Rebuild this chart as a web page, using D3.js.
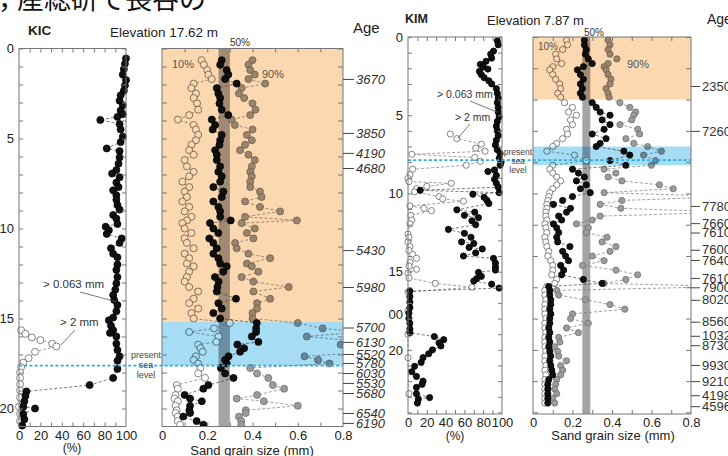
<!DOCTYPE html>
<html><head><meta charset="utf-8">
<script src="https://cdn.jsdelivr.net/npm/d3@7"></script>
<style>
html,body{margin:0;padding:0;background:#fff;}
svg{display:block;font-family:"Liberation Sans",Arial,sans-serif;}
</style></head><body>
<svg id="c" width="728" height="456"></svg>
<script>
// ---------------- KIC core ----------------
const kicPctDepth = [0.55,0.85,1.15,1.45,1.75,2.05,2.35,2.6,2.9,3.15,3.45,3.65,3.8,3.97,4.2,4.5,4.9,5.2,5.55,5.7,6.05,6.4,6.75,6.95,7.15,7.45,7.7,7.88,8.15,8.4,8.7,8.95,9.25,9.45,9.75,9.9,10.1,10.3,10.55,10.8,11.1,11.4,11.6,12.0,12.3,12.7,13.05,13.4,13.7,13.97,14.25,14.6,14.95,15.1,15.4,15.65,15.8,16.0,16.4,16.75,17.1,17.35,17.8,18.3,18.7,19.05,19.3,19.6,19.9,20.0,20.3,20.6,20.95];
const kicPct063 = [100,99,98,97,100,99,98,95,94,97,95,97,92,76,94,95,97,95,82,94,94,93,91,87,94,91,93,88,91,91,92,94,88,91,92,81,84,82,96,94,86,88,92,92,91,92,91,90,88,89,92,91,88,84,86,88,85,91,91,92,94,92,92,88,66,7,6,5,4,15,4,5,3];
const kicPct2Depth = [15.65,15.85,16.05,16.2,16.4,16.55,16.85,17.2,17.45,17.7,18.0,18.3,18.65,19.0,19.4,19.9,20.3,20.7];
const kicPct2 = [2,6,12,20,31,35,15,9,4,2,1,1,1,1,1,0,1,1];
const kicGrainDepth = [0.65,0.9,1.2,1.45,1.7,1.95,2.2,2.5,2.75,3.05,3.4,3.7,3.95,4.25,4.5,4.8,5.1,5.35,5.65,5.9,6.2,6.55,6.85,7.1,7.4,7.7,7.95,8.25,8.5,8.8,9.05,9.35,9.55,9.7,10.0,10.25,10.55,10.8,11.1,11.4,11.65,11.95,12.1,12.4,12.7,12.95,13.25,13.5,13.9,14.15,14.45,14.7,15.0,15.25,15.55,15.75,16.0,16.3,16.45,16.65,16.85,17.1,17.3,17.5,17.75,18.05,18.3,18.7,18.9,19.25,19.45,19.6,19.85,20.1,20.25,20.45,20.7,20.9];
const kicD10 = [0.175,0.185,0.2,0.205,0.22,0.14,0.13,0.15,0.14,0.155,0.16,0.12,0.07,0.14,0.15,0.16,0.15,0.13,0.12,0.14,0.1,0.11,0.14,0.12,0.09,0.12,0.1,0.11,0.09,0.12,0.1,0.13,0.11,0.09,0.1,0.13,0.1,0.11,0.14,0.1,0.12,0.11,0.14,0.12,0.11,0.1,0.12,0.16,0.14,0.12,0.16,0.13,0.14,0.3,0.23,0.12,0.25,0.24,0.16,0.17,0.18,0.15,0.14,0.16,0.17,0.16,0.19,0.065,0.07,0.06,0.055,0.07,0.06,0.065,0.06,0.07,0.07,0.08];
const kicD50 = [0.264,0.257,0.286,0.293,0.279,0.33,0.242,0.249,0.257,0.254,0.264,0.293,0.22,0.235,0.224,0.264,0.257,0.254,0.235,0.242,0.242,0.257,0.249,0.264,0.257,0.227,0.271,0.264,0.227,0.249,0.257,0.257,0.304,0.212,0.227,0.249,0.209,0.227,0.242,0.227,0.249,0.257,0.286,0.271,0.234,0.25,0.245,0.242,0.327,0.249,0.264,0.227,0.257,0.419,0.416,0.416,0.397,0.426,0.333,0.363,0.345,0.294,0.279,0.286,0.26,0.279,0.316,0.205,0.183,0.1,0.124,0.176,0.124,0.121,0.124,0.094,0.153,0.183];
const kicD90 = [0.4,0.382,0.39,0.41,0.382,0.456,0.352,0.34,0.363,0.4,0.413,0.39,0.308,0.322,0.4,0.375,0.397,0.367,0.345,0.382,0.41,0.397,0.39,0.397,0.39,0.39,0.433,0.44,0.367,0.433,0.522,0.367,0.596,0.352,0.41,0.375,0.404,0.323,0.33,0.382,0.478,0.375,0.397,0.426,0.352,0.404,0.56,0.404,0.478,0.42,0.42,0.4,0.4,0.6,0.71,0.88,0.64,0.9,0.79,0.82,0.95,0.63,0.69,0.74,0.39,0.42,0.47,0.49,0.54,0.42,0.33,0.45,0.6,0.37,0.37,0.34,0.35,0.35];
const kicAgeDepth = [1.69,4.69,5.8,6.64,11.2,13.25,15.5,16.3,16.97,17.47,18.03,18.58,19.14,20.25,20.8];
const kicAgeLabels = ["3670","3850","4190","4680","5430","5980","5700","6130","5520","5780","6030","5530","5680","6540","6190"];
const kicOrange = [0, 15.2];
const kicBlue = [15.2, 17.62];
const kicSeaLevel = 17.62;

// ---------------- KIM core ----------------
const kimPctDepth = [0.25,0.5,0.9,1.1,1.35,1.55,1.75,1.9,2.05,2.2,2.4,2.6,2.8,3.0,3.3,3.6,3.9,4.2,4.5,4.8,5.1,5.4,5.7,6.0,6.3,6.6,6.9,7.2,7.45,7.75,8.0,8.2,8.5,8.6,8.85,9.1,9.35,9.6,9.8,9.95,10.05,10.25,10.45,10.65,11.05,11.2,11.4,11.55,11.75,12.0,12.3,12.55,12.8,13.1,13.2,13.45,13.55,13.8,14.0,14.15,14.45,14.7,14.9,15.05,15.3,15.45,15.6,15.8,16.05,16.25,16.6,16.95,17.3,17.65,18.0,18.3,18.65,18.9,19.15,19.35,19.55,19.75,20.0,20.25,20.5,20.8,21.05,21.4,21.7,22.0,22.2,22.4,22.8,23.05,23.15,23.4];
const kimPct063 = [95,96,91,88,89,83,77,80,85,76,78,81,86,89,94,95,96,95,96,96,97,95,94,95,96,94,93,95,98,97,99,98,92,85,94,92,94,96,13,97,69,81,84,86,52,71,60,75,68,72,43,60,67,57,70,65,79,72,59,91,93,93,93,75,78,73,70,89,97,2,2,2,2,1,1,2,2,2,28,38,33,35,26,22,16,14,7,4,9,16,15,9,9,23,11,10];
const kimPct2Depth = [6.2,6.5,6.85,7.1,7.3,7.5,7.7,7.95,8.2,8.45,8.8,9.05,9.25,9.35,9.55,9.7,9.9,10.2,10.35,10.5,10.8,10.95,11.1,11.4,11.7,11.95,12.6,12.8,13.1,13.4,13.65,13.9,14.15,14.4,14.65,14.85,15.1,15.4,15.75,16.0,16.3,17.5,19.0,20.5,22.8];
const kimPct2 = [45,52,78,72,82,4,71,77,62,5,2,0,1,46,20,9,7,33,37,59,2,17,25,3,4,2,0,1,0,2,1,5,9,2,1,9,0,1,29,68,0,0,0,0,1];
const kimGrainDepth = [0.2,0.5,0.8,1.1,1.4,1.7,1.9,2.1,2.4,2.7,3.0,3.3,3.6,3.85,4.2,4.5,4.8,5.0,5.3,5.6,5.9,6.2,6.5,6.8,7.0,7.3,7.55,7.9,8.2,8.45,8.7,8.95,9.2,9.45,9.7,9.95,10.2,10.45,10.7,10.95,11.2,11.45,11.7,11.95,12.2,12.5,12.8,13.1,13.4,13.7,14.0,14.3,14.6,14.9,15.2,15.5,15.75,15.95,16.2,16.5,16.8,17.1,17.4,17.7,18.0,18.3,18.6,18.9,19.2,19.5,19.8,20.1,20.4,20.7,21.0,21.3,21.6,21.9,22.2,22.5,22.8,23.1,23.4];
const kimD10 = [0.17,0.175,0.15,0.115,0.12,0.145,0.1,0.085,0.1,0.115,0.135,0.14,0.125,0.14,0.16,0.2,0.18,0.22,0.19,0.2,0.17,0.175,0.15,0.12,0.1,0.07,0.21,0.27,0.1,0.085,0.1,0.12,0.14,0.12,0.1,0.085,0.08,0.075,0.07,0.07,0.065,0.065,0.07,0.06,0.065,0.07,0.06,0.065,0.07,0.08,0.075,0.09,0.1,0.1,0.095,0.12,0.11,0.07,0.06,0.06,0.065,0.06,0.06,0.06,0.065,0.06,0.06,0.065,0.06,0.06,0.06,0.065,0.06,0.06,0.065,0.06,0.065,0.06,0.06,0.06,0.06,0.06,0.06];
const kimD50 = [0.26,0.26,0.27,0.265,0.28,0.3,0.255,0.225,0.24,0.255,0.24,0.25,0.24,0.25,0.3,0.32,0.34,0.39,0.35,0.39,0.36,0.3,0.37,0.34,0.32,0.46,0.49,0.39,0.47,0.2,0.23,0.26,0.22,0.27,0.24,0.29,0.2,0.15,0.103,0.19,0.17,0.13,0.145,0.103,0.12,0.13,0.12,0.125,0.187,0.15,0.165,0.18,0.14,0.155,0.145,0.255,0.35,0.08,0.085,0.085,0.09,0.09,0.085,0.09,0.085,0.085,0.08,0.085,0.08,0.085,0.08,0.085,0.09,0.085,0.09,0.095,0.1,0.08,0.075,0.075,0.075,0.075,0.075];
const kimD90 = [0.38,0.39,0.38,0.39,0.425,0.38,0.36,0.37,0.38,0.395,0.39,0.37,0.38,0.385,0.44,0.49,0.52,0.51,0.5,0.44,0.53,0.54,0.47,0.51,0.58,0.65,0.56,0.62,0.6,0.36,0.42,0.38,0.45,0.64,0.71,0.36,1.0,0.45,0.34,0.445,1.0,0.34,0.3,0.22,0.28,0.27,0.375,0.35,0.42,0.39,0.3,0.36,0.25,0.42,0.53,0.47,0.36,1.0,0.12,0.13,0.265,0.39,0.465,0.2,0.19,0.28,0.17,0.23,0.13,0.136,0.11,0.125,0.13,0.17,0.14,0.15,0.14,0.12,0.115,0.11,0.12,0.1,0.11];
const kimAgeDepth = [3.13,6.0,10.8,11.9,12.5,13.6,14.25,15.4,16.0,16.8,18.2,19.1,19.7,20.96,22.0,22.9,23.6];
const kimAgeLabels = ["2350","7260","7780","7660","7610","7600","7640","7610","7900","8020","8560","10320","8730","9930","9210","41980","45960"];
const kimOrange = [0, 4.0];
const kimBlue = [7.0, 8.2];
const kimSeaLevel = 7.87;

// ---------------- shared tick labels ----------------
const depthTicks = [0,5,10,15,20];
const pctTicks = [0,20,40,60,80,100];
const mmTicks = [0,0.2,0.4,0.6,0.8];
const mmTickLabels = ["0","0.2","0.4","0.6","0.8"];

const svg = d3.select("#c");
const FONT = '"Liberation Sans", Arial, sans-serif';

function text(x, y, s, o = {}) {
  return svg.append("text").attr("x", x).attr("y", y).text(s)
    .attr("font-family", o.family || FONT)
    .attr("font-size", o.size || 12)
    .attr("font-weight", o.weight || "normal")
    .attr("font-style", o.style || "normal")
    .attr("text-anchor", o.anchor || "start")
    .attr("fill", o.fill || "#222");
}

let clipId = 0;
function drawCore(c) {
  const y = d3.scaleLinear().domain([0, c.maxDepth]).range([c.top, c.bottom]);
  const xp = d3.scaleLinear().domain([0, 100]).range(c.pctRange);
  const xm = d3.scaleLinear().domain([0, 0.8]).range(c.mmRange);
  const g = svg.append("g");
  const pts = (ds, vs) => ds.map((d, i) => ({ d, v: vs[i] }));

  const styles = {
    fine: { fill: "#111", stroke: "#000", line: "#444" },
    coarse: { fill: "#fff", stroke: "#666", line: "#777" },
    d90: { fill: "#9c9c9c", stroke: "#6e6e6e", line: "#777" }
  };
  function series(parent, data, xs, st) {
    const line = d3.line().x(p => xs(p.v)).y(p => y(p.d));
    parent.append("path").attr("d", line(data)).attr("fill", "none")
      .attr("stroke", st.line).attr("stroke-width", 0.7).attr("stroke-dasharray", "3,2");
    parent.append("g").selectAll("circle").data(data).join("circle")
      .attr("cx", p => xs(p.v)).attr("cy", p => y(p.d)).attr("r", c.r)
      .attr("fill", st.fill).attr("stroke", st.stroke).attr("stroke-width", 0.8);
  }
  function innerTicks(parent, axisFn, scale, tx, ty, values, size) {
    const a = parent.append("g").attr("transform", `translate(${tx},${ty})`)
      .call(axisFn(scale).tickValues(values).tickSize(size).tickFormat(""));
    a.select(".domain").remove();
    a.selectAll("line").attr("stroke", "#777").attr("stroke-width", 1);
  }
  const [L0, L1] = c.pctRange, [M0, M1] = c.mmRange;
  const depthMinor = d3.range(0, c.maxDepth, 1);
  const depthMinorM = d3.range(0, c.maxDepth, c.midTickStep);

  // ---- left panel (% sand) ----
  const lp = g.append("g");
  series(lp, pts(c.pct2Depth, c.pct2), xp, styles.coarse);
  series(lp, pts(c.pctDepth, c.pct063), xp, styles.fine);
  lp.append("rect").attr("x", L0).attr("y", c.top).attr("width", L1 - L0).attr("height", c.bottom - c.top)
    .attr("fill", "none").attr("stroke", "#777").attr("stroke-width", 1);
  innerTicks(lp, d3.axisRight, y, L0, 0, depthMinor, 4);
  innerTicks(lp, d3.axisLeft, y, L1, 0, depthMinor, 4);
  innerTicks(lp, d3.axisBottom, xp, 0, c.top, d3.range(10, 100, 10), 4);
  innerTicks(lp, d3.axisTop, xp, 0, c.bottom, d3.range(10, 100, 10), 4);
  const ly = lp.append("g").attr("transform", `translate(${L0},0)`)
    .call(d3.axisLeft(y).tickValues(depthTicks).tickSize(0).tickPadding(5));
  ly.select(".domain").remove();
  ly.selectAll("text").attr("font-size", 13).attr("font-family", FONT).attr("fill", "#222");
  const lx = lp.append("g").attr("transform", `translate(0,${c.bottom})`)
    .call(d3.axisBottom(xp).tickValues(pctTicks).tickSize(0).tickPadding(4));
  lx.select(".domain").remove();
  lx.selectAll("text").attr("font-size", 13).attr("font-family", FONT).attr("fill", "#222");

  // ---- middle panel (grain size) ----
  const id = "clip" + (clipId++);
  svg.append("defs").append("clipPath").attr("id", id).append("rect")
    .attr("x", M0).attr("y", c.top).attr("width", M1 - M0).attr("height", c.bottom - c.top);
  const mp = g.append("g");
  const inner = mp.append("g").attr("clip-path", `url(#${id})`);
  inner.append("rect").attr("x", xm(c.band[0])).attr("y", c.top)
    .attr("width", xm(c.band[1]) - xm(c.band[0])).attr("height", c.bottom - c.top).attr("fill", "#a3a3a8");
  series(inner, pts(c.grainDepth, c.d10), xm, styles.coarse);
  series(inner, pts(c.grainDepth, c.d90), xm, styles.d90);
  series(inner, pts(c.grainDepth, c.d50), xm, styles.fine);
  // coloured facies overlays (multiplied)
  inner.append("rect").attr("x", M0).attr("y", y(c.orange[0])).attr("width", M1 - M0)
    .attr("height", y(c.orange[1]) - y(c.orange[0])).attr("fill", "#fcd8b0").style("mix-blend-mode", "multiply");
  inner.append("rect").attr("x", M0).attr("y", y(c.blue[0])).attr("width", M1 - M0)
    .attr("height", y(c.blue[1]) - y(c.blue[0])).attr("fill", "#a6dcf4").style("mix-blend-mode", "multiply");
  mp.append("rect").attr("x", M0).attr("y", c.top).attr("width", M1 - M0).attr("height", c.bottom - c.top)
    .attr("fill", "none").attr("stroke", "#777").attr("stroke-width", 1);
  innerTicks(mp, d3.axisRight, y, M0, 0, depthMinorM, 5);
  innerTicks(mp, d3.axisLeft, y, M1, 0, depthMinorM, 5);
  innerTicks(mp, d3.axisBottom, xm, 0, c.top, d3.range(0.1, 0.8, 0.1), 4);
  innerTicks(mp, d3.axisTop, xm, 0, c.bottom, d3.range(0.1, 0.8, 0.1), 4);
  const mx = mp.append("g").attr("transform", `translate(0,${c.bottom})`)
    .call(d3.axisBottom(xm).tickValues(mmTicks).tickFormat((d, i) => mmTickLabels[i]).tickSize(0).tickPadding(4));
  mx.select(".domain").remove();
  mx.selectAll("text").attr("font-size", 13).attr("font-family", FONT).attr("fill", "#222");

  // ages
  const ay = mp.append("g").attr("transform", `translate(${M1},0)`)
    .call(d3.axisRight(y).tickValues(c.ageDepth).tickFormat((d, i) => c.ageLabels[i]).tickSize(c.ageTick).tickPadding(2));
  ay.select(".domain").remove();
  ay.selectAll("line").attr("stroke", "#444");
  ay.selectAll("text").attr("font-size", 13).attr("font-family", FONT).attr("fill", "#333")
    .attr("font-style", c.ageItalic ? "italic" : "normal");

  // present sea level
  g.append("line").attr("x1", L0).attr("x2", M1).attr("y1", y(c.sea)).attr("y2", y(c.sea))
    .attr("stroke", "#2aaee0").attr("stroke-width", 1.8).attr("stroke-dasharray", "3,2.2");
  return { y, xp, xm };
}

// Top caption (cropped)
text(-2, 9, "，", { size: 27, family: '"Noto Sans CJK JP"', fill: "#111" });
text(17, 9, "産総研で長谷の", { size: 27, family: '"Noto Sans CJK JP"', fill: "#111" });

// KIC
drawCore({
  maxDepth: 21, top: 48.5, bottom: 426.5, pctRange: [19, 126], mmRange: [162, 343], r: 3.5,
  pctDepth: kicPctDepth, pct063: kicPct063, pct2Depth: kicPct2Depth, pct2: kicPct2,
  grainDepth: kicGrainDepth, d10: kicD10, d50: kicD50, d90: kicD90,
  ageDepth: kicAgeDepth, ageLabels: kicAgeLabels, ageItalic: true, ageTick: 11,
  orange: kicOrange, blue: kicBlue, sea: kicSeaLevel, band: [0.25, 0.30], midTickStep: 1
});
// KIM
drawCore({
  maxDepth: 24.1, top: 37, bottom: 414, pctRange: [408, 502], mmRange: [533, 691], r: 3.1,
  pctDepth: kimPctDepth, pct063: kimPct063, pct2Depth: kimPct2Depth, pct2: kimPct2,
  grainDepth: kimGrainDepth, d10: kimD10, d50: kimD50, d90: kimD90,
  ageDepth: kimAgeDepth, ageLabels: kimAgeLabels, ageItalic: false, ageTick: 9,
  orange: kimOrange, blue: kimBlue, sea: kimSeaLevel, band: [0.25, 0.29], midTickStep: 2
});

// ---- titles & annotations (KIC) ----
text(28, 35, "KIC", { size: 13.5, weight: "bold" });
text(110, 37, "Elevation 17.62 m", { size: 13.5 });
text(230, 46, "50%", { size: 10, fill: "#333" });
text(353, 33, "Age", { size: 15 });
text(172, 68, "10%", { size: 11, fill: "#555" });
text(262, 78, "90%", { size: 11, fill: "#555" });
text(43, 288, "> 0.063 mm", { size: 11.5, fill: "#333" });
svg.append("line").attr("x1", 80).attr("y1", 292).attr("x2", 117).attr("y2", 302).attr("stroke", "#555").attr("stroke-width", 0.8);
text(60, 326, "> 2 mm", { size: 11.5, fill: "#333" });
svg.append("line").attr("x1", 75).attr("y1", 330).attr("x2", 61).attr("y2", 345).attr("stroke", "#555").attr("stroke-width", 0.8);
text(146, 358, "present", { size: 9, anchor: "middle", fill: "#444" });
text(146, 368, "sea", { size: 9, anchor: "middle", fill: "#444" });
text(146, 378, "level", { size: 9, anchor: "middle", fill: "#444" });
text(72, 452, "(%)", { size: 12, anchor: "middle" });
text(252, 455, "Sand grain size (mm)", { size: 13, anchor: "middle" });

// ---- titles & annotations (KIM) ----
text(405, 23, "KIM", { size: 12.5, weight: "bold" });
text(487, 25, "Elevation 7.87 m", { size: 13 });
text(584, 36, "50%", { size: 10, fill: "#333" });
text(707, 24, "Age", { size: 14 });
text(538, 50, "10%", { size: 10, fill: "#555" });
text(627, 68, "90%", { size: 11, fill: "#555" });
text(437, 98, "> 0.063 mm", { size: 10.5, fill: "#333" });
svg.append("line").attr("x1", 470).attr("y1", 101).attr("x2", 497).attr("y2", 112).attr("stroke", "#555").attr("stroke-width", 0.8);
text(455, 121, "> 2 mm", { size: 10.5, fill: "#333" });
svg.append("line").attr("x1", 470).attr("y1", 124).attr("x2", 458).attr("y2", 138).attr("stroke", "#555").attr("stroke-width", 0.8);
text(518, 155, "present", { size: 8.5, anchor: "middle", fill: "#444" });
text(518, 164, "sea", { size: 8.5, anchor: "middle", fill: "#444" });
text(518, 173, "level", { size: 8.5, anchor: "middle", fill: "#444" });
text(403, 319, "00", { size: 13, anchor: "end" });
text(455, 440, "(%)", { size: 12, anchor: "middle" });
text(613, 440, "Sand grain size (mm)", { size: 13, anchor: "middle" });
</script>
</body></html>
